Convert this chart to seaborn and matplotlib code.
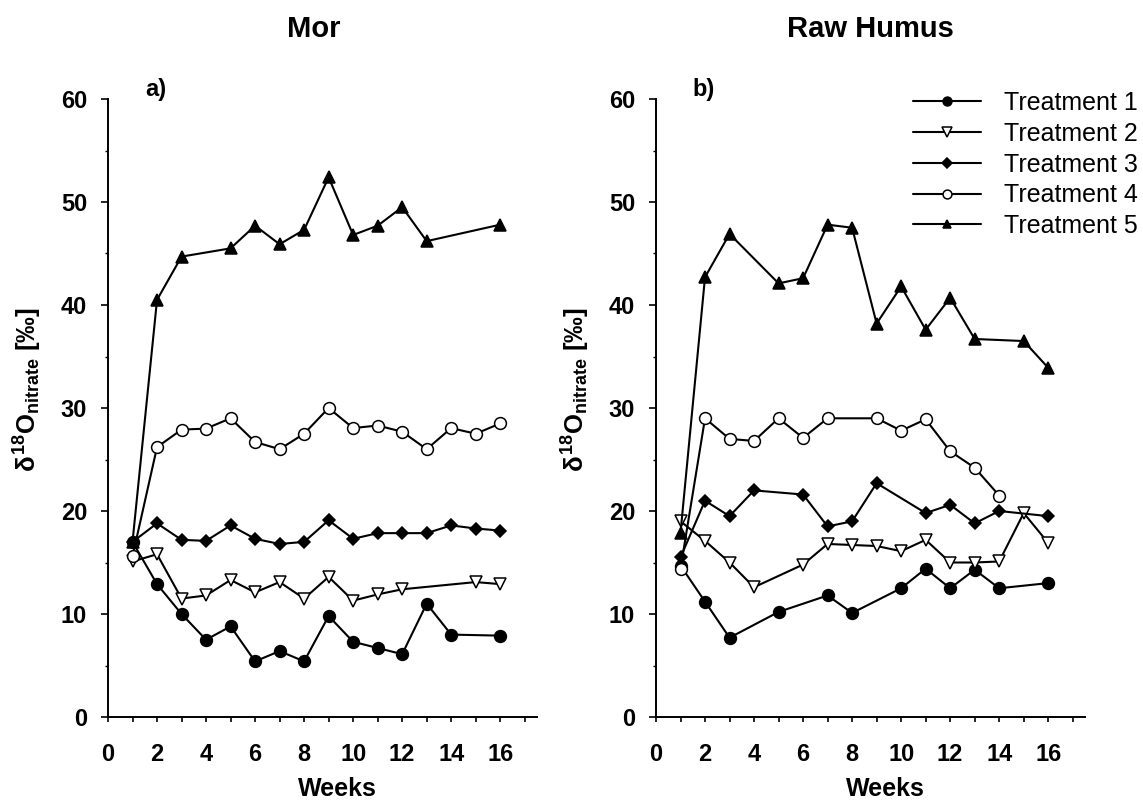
import numpy as np
import pandas as pd
import matplotlib
matplotlib.use("Agg")
import matplotlib.pyplot as plt
from matplotlib.ticker import MultipleLocator
import seaborn as sns

# ---------------- data ----------------
panel_titles = ["Mor", "Raw Humus"]
panel_letters = ["a)", "b)"]
treatments = ["Treatment 1", "Treatment 2", "Treatment 3", "Treatment 4", "Treatment 5"]

# Mor
mor_t1_weeks = [1, 2, 3, 4, 5, 6, 7, 8, 9, 10, 11, 12, 13, 14, 16]
mor_t1_vals = [17.0, 12.9, 10.0, 7.5, 8.8, 5.4, 6.4, 5.4, 9.8, 7.3, 6.7, 6.1, 11.0, 8.0, 7.9]
mor_t2_weeks = [1, 2, 3, 4, 5, 6, 7, 8, 9, 10, 11, 12, 15, 16]
mor_t2_vals = [15.1, 15.8, 11.5, 11.8, 13.3, 12.1, 13.1, 11.5, 13.6, 11.3, 11.9, 12.4, 13.1, 12.9]
mor_t3_weeks = [1, 2, 3, 4, 5, 6, 7, 8, 9, 10, 11, 12, 13, 14, 15, 16]
mor_t3_vals = [17.0, 18.8, 17.2, 17.1, 18.6, 17.3, 16.8, 17.0, 19.1, 17.3, 17.85, 17.85, 17.85, 18.6, 18.3, 18.1]
mor_t4_weeks = [1, 2, 3, 4, 5, 6, 7, 8, 9, 10, 11, 12, 13, 14, 15, 16]
mor_t4_vals = [15.6, 26.2, 27.9, 28.0, 29.0, 26.7, 26.0, 27.5, 30.0, 28.05, 28.3, 27.7, 26.0, 28.05, 27.5, 28.5]
mor_t5_weeks = [1, 2, 3, 5, 6, 7, 8, 9, 10, 11, 12, 13, 16]
mor_t5_vals = [17.0, 40.5, 44.7, 45.5, 47.7, 45.9, 47.3, 52.4, 46.8, 47.7, 49.5, 46.2, 47.8]

# Raw Humus
raw_t1_weeks = [1, 2, 3, 5, 7, 8, 10, 11, 12, 13, 14, 16]
raw_t1_vals = [14.7, 11.2, 7.7, 10.2, 11.8, 10.1, 12.5, 14.4, 12.5, 14.3, 12.5, 13.0]
raw_t2_weeks = [1, 2, 3, 4, 6, 7, 8, 9, 10, 11, 12, 13, 14, 15, 16]
raw_t2_vals = [19.0, 17.1, 15.0, 12.6, 14.8, 16.8, 16.7, 16.6, 16.1, 17.2, 15.0, 15.0, 15.1, 19.8, 16.9]
raw_t3_weeks = [1, 2, 3, 4, 6, 7, 8, 9, 11, 12, 13, 14, 16]
raw_t3_vals = [15.5, 21.0, 19.5, 22.0, 21.6, 18.5, 19.0, 22.7, 19.8, 20.6, 18.8, 20.0, 19.5]
raw_t4_weeks = [1, 2, 3, 4, 5, 6, 7, 9, 10, 11, 12, 13, 14]
raw_t4_vals = [14.4, 29.0, 27.0, 26.8, 29.0, 27.1, 29.0, 29.0, 27.8, 28.9, 25.8, 24.2, 21.5]
raw_t5_weeks = [1, 2, 3, 5, 6, 7, 8, 9, 10, 11, 12, 13, 15, 16]
raw_t5_vals = [17.9, 42.7, 46.9, 42.1, 42.6, 47.8, 47.5, 38.2, 41.8, 37.6, 40.7, 36.7, 36.5, 33.9]

y_ticks = [0, 10, 20, 30, 40, 50, 60]
x_ticks = [0, 2, 4, 6, 8, 10, 12, 14, 16]

panels = [
    [(mor_t1_weeks, mor_t1_vals), (mor_t2_weeks, mor_t2_vals), (mor_t3_weeks, mor_t3_vals),
     (mor_t4_weeks, mor_t4_vals), (mor_t5_weeks, mor_t5_vals)],
    [(raw_t1_weeks, raw_t1_vals), (raw_t2_weeks, raw_t2_vals), (raw_t3_weeks, raw_t3_vals),
     (raw_t4_weeks, raw_t4_vals), (raw_t5_weeks, raw_t5_vals)],
]

# marker styles: (marker, facecolor, size)
styles = [("o", "black", 8.5), ("v", "white", 9), ("D", "black", 6.5), ("o", "white", 8.5), ("^", "black", 8.5)]

# ---------------- style ----------------
sns.set_theme(style="ticks")
plt.rcParams["font.family"] = ["Liberation Sans", "DejaVu Sans"]
plt.rcParams["font.weight"] = "bold"
plt.rcParams["mathtext.fontset"] = "custom"
plt.rcParams["mathtext.rm"] = "Liberation Sans:bold"
plt.rcParams["mathtext.bf"] = "Liberation Sans:bold"
plt.rcParams["mathtext.it"] = "Liberation Sans"
plt.rcParams["axes.linewidth"] = 1.4
for k in ["text.color", "axes.labelcolor", "xtick.color", "ytick.color", "axes.edgecolor"]:
    plt.rcParams[k] = "black"

fig = plt.figure(figsize=(11.43, 8.02), dpi=100)
W, H = 1143, 802
axes = [
    fig.add_axes([108 / W, 1 - 717 / H, 429 / W, 618 / H]),
    fig.add_axes([656 / W, 1 - 717 / H, 429 / W, 618 / H]),
]

ylabel = r"$\delta^{18}$O$_{nitrate}$ [‰]"

for p, ax in enumerate(axes):
    for i, (wk, vals) in enumerate(panels[p]):
        df = pd.DataFrame({"Weeks": wk, "value": vals})
        m, fc, ms = styles[i]
        sns.lineplot(data=df, x="Weeks", y="value", ax=ax, color="black",
                     marker=m, markersize=ms, markerfacecolor=fc,
                     markeredgecolor="black", markeredgewidth=1.1,
                     linewidth=1.5, label=treatments[i], legend=False, zorder=3 + i)
    ax.set_xlim(0, 17.5)
    ax.set_ylim(0, 60)
    ax.set_xticks(x_ticks)
    ax.set_yticks(y_ticks)
    ax.xaxis.set_minor_locator(MultipleLocator(1))
    ax.yaxis.set_minor_locator(MultipleLocator(5))
    ax.tick_params(axis="x", which="both", length=3.6, width=1.2, pad=15, labelsize=17)
    ax.tick_params(axis="y", which="major", length=5, width=1.2, pad=10, labelsize=17)
    ax.tick_params(axis="y", which="minor", length=2.5, width=1.0)
    sns.despine(ax=ax)
    ax.set_xlabel("Weeks", fontsize=18, fontweight="bold")
    ax.xaxis.set_label_coords(0.535, -0.097)
    ax.set_ylabel(ylabel, fontsize=18.5, fontweight="bold")
    ax.yaxis.set_label_coords(-0.15, 0.53)
    ax.text(0.086, 1.005, panel_letters[p], transform=ax.transAxes, fontsize=17,
            fontweight="bold", ha="left", va="baseline")
    ax.text(0.48 if p == 0 else 0.5, 1.10, panel_titles[p], transform=ax.transAxes,
            fontsize=21, fontweight="bold", ha="center", va="baseline")

handles, labels = axes[1].get_legend_handles_labels()
leg = fig.legend(handles, labels, loc="upper left", bbox_to_anchor=(913 / W, 1 - 91 / H),
                 frameon=False, prop={"weight": "normal", "size": 18},
                 handlelength=2.7, handletextpad=0.95, labelspacing=0.27,
                 borderpad=0, borderaxespad=0, markerscale=0.75)

fig.savefig("out.png", dpi=100)
